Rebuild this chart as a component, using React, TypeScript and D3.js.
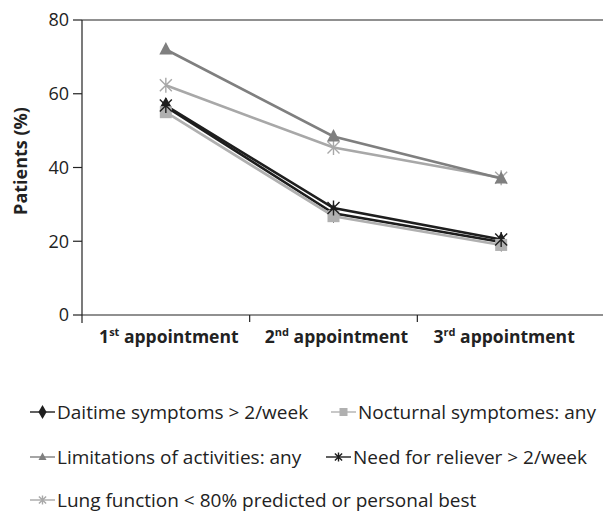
import React from "react";
import * as d3 from "d3";

const categories = ["1", "2", "3"];
const catSup = ["st", "nd", "rd"];
const yTicks = [0, 20, 40, 60, 80];

const seriesNames = [
  "Daitime symptoms > 2/week",
  "Nocturnal symptomes: any",
  "Limitations of activities: any",
  "Need for reliever > 2/week",
  "Lung function < 80% predicted or personal best",
];
const daytime = [56.5, 27.6, 19.8];
const nocturnal = [55, 26.8, 19];
const limitations = [72, 48.4, 37];
const reliever = [56.8, 29, 20.5];
const lungFunction = [62.3, 45.4, 37.2];

const colors = ["#1e1e1e", "#b0b0b0", "#7f7f7f", "#1e1e1e", "#a8a8a8"];
const markers = ["diamond", "square", "triangle", "star", "star"];
const seriesData = [daytime, nocturnal, limitations, reliever, lungFunction];

const W = 603;
const H = 515;
const left = 82;
const right = 585;
const top = 20;
const bottom = 315;

function Marker({ type, x, y, color, size }: any) {
  const s = size;
  if (type === "diamond") {
    const p = d3.symbol(d3.symbolDiamond, s * s * 0.9)();
    return <path d={p as string} transform={`translate(${x},${y})`} fill={color} />;
  }
  if (type === "square") {
    return <rect x={x - s / 2} y={y - s / 2} width={s} height={s} fill={color} />;
  }
  if (type === "triangle") {
    const h = s * 0.95;
    return (
      <path
        d={`M${x},${y - h * 0.6}L${x + s / 2},${y + h * 0.4}L${x - s / 2},${y + h * 0.4}Z`}
        fill={color}
      />
    );
  }
  const r = s / 2;
  const dx = r * 0.8;
  return (
    <path
      d={`M${x - dx},${y - dx}L${x + dx},${y + dx}M${x + dx},${y - dx}L${x - dx},${y + dx}M${x},${y - r}L${x},${y + r}`}
      stroke={color}
      strokeWidth={1.4}
      fill="none"
    />
  );
}

export default function App() {
  const x = d3.scaleBand<string>().domain(categories).range([left, right]);
  const y = d3.scaleLinear().domain([0, 80]).range([bottom, top]);
  const line = d3
    .line<number>()
    .x((_, i) => (x(categories[i]) as number) + x.bandwidth() / 2)
    .y((d) => y(d));
  const font = "'Open Sans', sans-serif";
  const markerSize = [11, 12, 13, 15, 15];
  const order = [0, 1, 4, 2, 3];

  const legendRows = [
    [
      { i: 0, x: 30, y: 412 },
      { i: 1, x: 331, y: 412 },
    ],
    [
      { i: 2, x: 30, y: 457 },
      { i: 3, x: 326, y: 457 },
    ],
    [{ i: 4, x: 30, y: 500 }],
  ];

  return (
    <svg width={W} height={H} style={{ position: "absolute", left: 0, top: 0 }} fontFamily={font}>
      <rect width={W} height={H} fill="#fff" />
      {/* axes */}
      <line x1={left} x2={W} y1={top} y2={top} stroke="#222" strokeWidth={1.2} />
      <line x1={left} x2={W} y1={bottom} y2={bottom} stroke="#222" strokeWidth={1.2} />
      <line x1={left} x2={left} y1={top} y2={bottom + 8} stroke="#222" strokeWidth={1.2} />
      {yTicks.map((t) => (
        <g key={t}>
          <line x1={left - 9} x2={left} y1={y(t)} y2={y(t)} stroke="#222" strokeWidth={1.2} />
          <text x={left - 13} y={y(t)} dy="0.35em" textAnchor="end" fontSize={18} fill="#222">
            {t}
          </text>
        </g>
      ))}
      {categories.slice(1).map((c) => (
        <line
          key={c}
          x1={x(c) as number}
          x2={x(c) as number}
          y1={bottom}
          y2={bottom + 7}
          stroke="#222"
          strokeWidth={1.2}
        />
      ))}
      {categories.map((c, i) => (
        <text
          key={c}
          x={(x(c) as number) + x.bandwidth() / 2 + 3}
          y={343}
          textAnchor="middle"
          fontSize={17.5}
          fontWeight="bold"
          fill="#222"
        >
          {c}
          <tspan fontSize={11} dy={-7}>
            {catSup[i]}
          </tspan>
          <tspan dy={7}> appointment</tspan>
        </text>
      ))}
      <text
        transform={`translate(21,${161}) rotate(-90)`}
        textAnchor="middle"
        dy="0.35em"
        fontSize={18}
        fontWeight="bold"
        fill="#222"
      >
        Patients (%)
      </text>
      {/* lines */}
      {order.map((si) => (
        <path
          key={"l" + si}
          d={line(seriesData[si]) as string}
          fill="none"
          stroke={colors[si]}
          strokeWidth={2.6}
        />
      ))}
      {order.map((si) =>
        seriesData[si].map((v, i) => (
          <Marker
            key={"m" + si + "-" + i}
            type={markers[si]}
            x={(x(categories[i]) as number) + x.bandwidth() / 2}
            y={y(v)}
            color={colors[si]}
            size={markerSize[si]}
          />
        ))
      )}
      {/* legend */}
      {legendRows.flat().map(({ i, x: lx, y: ly }) => (
        <g key={"lg" + i}>
          <line x1={lx} x2={lx + 25} y1={ly} y2={ly} stroke={colors[i]} strokeWidth={1.4} />
          <Marker type={markers[i]} x={lx + 12.5} y={ly} color={colors[i]} size={i >= 3 ? 9 : 8} />
          <text x={lx + 27} y={ly} dy="0.35em" fontSize={19} fill="#222">
            {seriesNames[i]}
          </text>
        </g>
      ))}
    </svg>
  );
}
